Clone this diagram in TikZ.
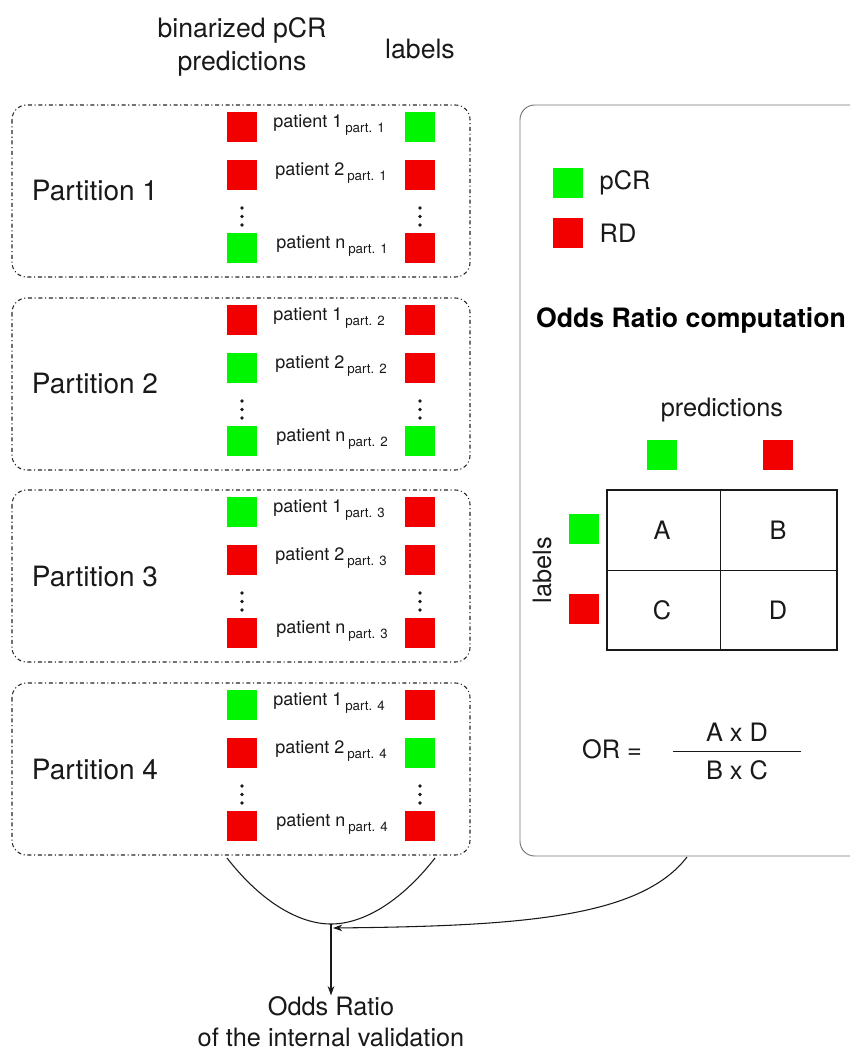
\documentclass[tikz,border=0pt]{standalone}
\usepackage{fontspec}
\setmainfont{TeX Gyre Heros}
\usetikzlibrary{arrows.meta}
\definecolor{sqgreen}{RGB}{0,245,0}
\definecolor{sqred}{RGB}{242,0,0}
\definecolor{txt}{RGB}{25,25,25}
\tikzset{
  px/.style={x=0.75pt,y=-0.75pt},
  sq/.style={minimum size=23pt,inner sep=0pt,draw=none},
  gsq/.style={sq,fill=sqgreen},
  rsq/.style={sq,fill=sqred},
  partbox/.style={draw=black!85,line width=0.8pt,dash dot,rounded corners=11pt},
  pat/.style={font=\fontsize{13.5}{16}\selectfont,text=txt,inner sep=0pt,anchor=west},
  big/.style={font=\fontsize{19}{23}\selectfont,text=txt},
  head/.style={font=\fontsize{20}{25}\selectfont,text=txt},
  conn/.style={line width=0.8pt,draw=txt},
  vdot/.style={fill=txt,draw=none},
}
\newcommand{\sub}[1]{\,{\fontsize{10}{12}\selectfont\raisebox{-0.35em}{#1}}}
\begin{document}
\begin{tikzpicture}[px]
\useasboundingbox (0,0) rectangle (850,1055);
\begin{scope}
\clip (0,0) rectangle (850,1055);
% headers
\node[head,align=center] (hpred) at (242,47) {binarized pCR\\predictions};
\node[head] (hlab) at (420,49) {labels};

% partitions: top y, colours
\foreach \i/\t/\la/\lb/\ma/\mb/\na/\nb in {1/105/rsq/gsq/rsq/rsq/gsq/rsq, 2/298/rsq/rsq/gsq/rsq/gsq/gsq, 3/490/gsq/rsq/rsq/rsq/rsq/rsq, 4/683/gsq/rsq/rsq/gsq/rsq/rsq}{
  \draw[partbox] (12,\t) rectangle (470,\t+172);
  \node[font=\fontsize{21}{25}\selectfont,text=txt] (pl\i) at (95,\t+86) {Partition \i};
  \node[\la] (a1\i) at (242,\t+22) {};
  \node[\lb] (b1\i) at (420,\t+22) {};
  \node[\ma] (a2\i) at (242,\t+70) {};
  \node[\mb] (b2\i) at (420,\t+70) {};
  \node[\na] (a3\i) at (242,\t+143) {};
  \node[\nb] (b3\i) at (420,\t+143) {};
  \node[pat] (t1\i) at (273,\t+20) {patient 1\sub{part. \i}};
  \node[pat] (t2\i) at (275,\t+68) {patient 2\sub{part. \i}};
  \node[pat] (t3\i) at (276,\t+141) {patient n\sub{part. \i}};
  \foreach \d in {103,111.5,120}{
    \fill[vdot] (242,\t+\d) circle (1.8);
    \fill[vdot] (420,\t+\d) circle (1.8);
  }
}

% right panel
\draw[draw=black!55,line width=0.7pt,rounded corners=11pt] (520,105) rectangle (880,856);
\node[gsq] (lg) at (568,183) {};
\node[big,anchor=west] (lgt) at (595,183) {pCR};
\node[rsq] (lr) at (568,233) {};
\node[big,anchor=west] (lrt) at (595,233) {RD};
\node[font=\bfseries\fontsize{20}{24}\selectfont,text=black] (ortitle) at (691,320) {Odds Ratio computation};
\node[big] (pp) at (722,410) {predictions};
\node[gsq] (pg) at (662,455) {};
\node[rsq] (pr) at (778,455) {};
\node[big,rotate=90] (ll) at (542,570) {labels};
\node[gsq] (lsg) at (584,529) {};
\node[rsq] (lsr) at (584,609) {};
\draw[line width=0.8pt,draw=txt] (607,490) rectangle (837,650);
\draw[line width=0.6pt,draw=txt] (720,490) -- (720,650);
\draw[line width=0.6pt,draw=txt] (607,570) -- (837,570);
\node[big] (cA) at (662,530) {A};
\node[big] (cB) at (778,530) {B};
\node[big] (cC) at (662,610) {C};
\node[big] (cD) at (778,610) {D};
\node[big] (orl) at (612,749) {OR =};
\node[big] (num) at (737,732) {A x D};
\node[big] (den) at (737,770) {B x C};
\draw[line width=0.6pt,draw=txt] (673,751) -- (801,751);

% connectors
\coordinate (cl) at (227,858);
\coordinate (cr) at (435,858);
\coordinate (join) at (331,924);
\coordinate (rp) at (687,857);
\coordinate (jin) at (333,928);
\draw[conn] (cl) .. controls (262,903) and (300,924) .. (join);
\draw[conn] (cr) .. controls (400,903) and (362,924) .. (join);
\draw[conn,-{Stealth[length=7pt,width=5pt]}] (rp) .. controls (640,918) and (520,926) .. (jin);
\node[big,align=center,inner sep=1pt] (res) at (331,1022) {Odds Ratio\\of the internal validation};
\draw[conn,-{Stealth[length=7pt,width=5pt]}] (join) -- (res.north);
\end{scope}
\end{tikzpicture}
\end{document}
